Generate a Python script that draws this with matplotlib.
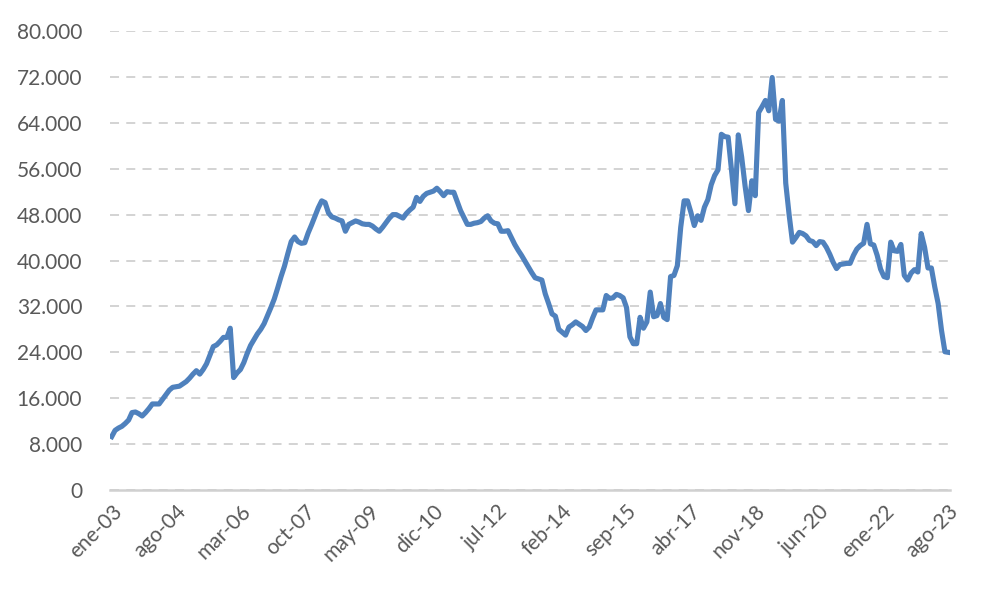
import matplotlib
matplotlib.use("Agg")
import matplotlib.pyplot as plt
from matplotlib.ticker import FuncFormatter

# monthly values, ene-03 .. ago-23
values = [
    9300, 10400, 10800, 11100, 11600, 12200, 13500, 13600, 13300, 12900,
    13500, 14200, 15000, 15000, 15000, 15800, 16600, 17400, 17900, 18000,
    18100, 18500, 18900, 19500, 20200, 20800, 20200, 21000, 22000, 23500,
    25000, 25300, 25900, 26600, 26600, 28200, 19600, 20400, 21000, 22200,
    23800, 25200, 26200, 27200, 28000, 29000, 30400, 31800, 33300, 35200,
    37200, 39000, 41200, 43300, 44100, 43300, 43000, 43100, 44800, 46200,
    47700, 49200, 50400, 50100, 48300, 47600, 47400, 47100, 46900, 45100,
    46300, 46600, 46900, 46700, 46400, 46300, 46300, 46000, 45500, 45100,
    45800, 46600, 47400, 48000, 48000, 47700, 47400, 48200, 48800, 49300,
    51000, 50300, 51200, 51700, 51900, 52100, 52600, 52000, 51300, 52000,
    51900, 51900, 50300, 48700, 47500, 46300, 46300, 46500, 46600, 46800,
    47400, 47800, 46900, 46500, 46400, 45100, 45100, 45200, 44000, 42800,
    41800, 40900, 39900, 38900, 37900, 37000, 36800, 36600, 34200, 32500,
    30700, 30300, 28000, 27500, 27000, 28400, 28800, 29300, 28900, 28500,
    27800, 28400, 30000, 31400, 31400, 31400, 33900, 33400, 33500, 34100,
    33900, 33500, 31800, 26700, 25500, 25500, 30100, 28200, 29300, 34500,
    30200, 30400, 32500, 30100, 29700, 37200, 37400, 39100, 45800, 50400,
    50400, 48400, 46100, 47800, 47000, 49300, 50600, 53200, 54800, 55800,
    62000, 61600, 61500, 55700, 49900, 61900, 58000, 53000, 48700, 53900,
    51300, 65800, 66800, 67900, 66100, 71900, 64600, 64300, 67900, 53500,
    48000, 43200, 44000, 44900, 44700, 44300, 43500, 43300, 42600, 43300,
    43200, 42300, 41100, 39700, 38600, 39300, 39400, 39500, 39500, 40900,
    42000, 42600, 43000, 46300, 42900, 42700, 40900, 38500, 37200, 37000,
    43200, 41700, 41600, 42800, 37400, 36600, 37800, 38400, 38000, 44700,
    42300, 38700, 38700, 35400, 32500, 27800, 24100, 24000,
]

tick_labels = ['ene-03', 'ago-04', 'mar-06', 'oct-07', 'may-09', 'dic-10', 'jul-12',
               'feb-14', 'sep-15', 'abr-17', 'nov-18', 'jun-20', 'ene-22', 'ago-23']
y_ticks = [0, 8000, 16000, 24000, 32000, 40000, 48000, 56000, 64000, 72000, 80000]

plt.rcParams['font.family'] = ['Lato', 'DejaVu Sans']

fig = plt.figure(figsize=(10, 6), dpi=100)
ax = fig.add_axes([0.110, 0.1833, 0.840, 0.765])

months = list(range(len(values)))
ax.plot(months, values, color='#4F81BD', linewidth=3.7, solid_joinstyle='round', zorder=3)

ax.set_ylim(0, 80000)
ax.set_xlim(-0.5, len(values) - 0.5)
ax.set_yticks(y_ticks)
ax.yaxis.set_major_formatter(FuncFormatter(lambda v, p: f"{int(v):,}".replace(',', '.')))
ax.set_xticks(range(0, len(values), 19))
ax.set_xticklabels(tick_labels, rotation=45, ha='right', rotation_mode='anchor')

ax.grid(axis='y', linestyle=(0, (5, 4)), color='#D0D0D0', linewidth=1.3, zorder=0)
for s in ['top', 'right', 'left']:
    ax.spines[s].set_visible(False)
ax.spines['bottom'].set_color('#D0D0D0')
ax.spines['bottom'].set_linewidth(1.8)

ax.tick_params(axis='both', length=0, labelsize=15, labelcolor='#595959')
ax.tick_params(axis='y', pad=20)
ax.tick_params(axis='x', pad=8)

fig.savefig('out.png', dpi=100)
